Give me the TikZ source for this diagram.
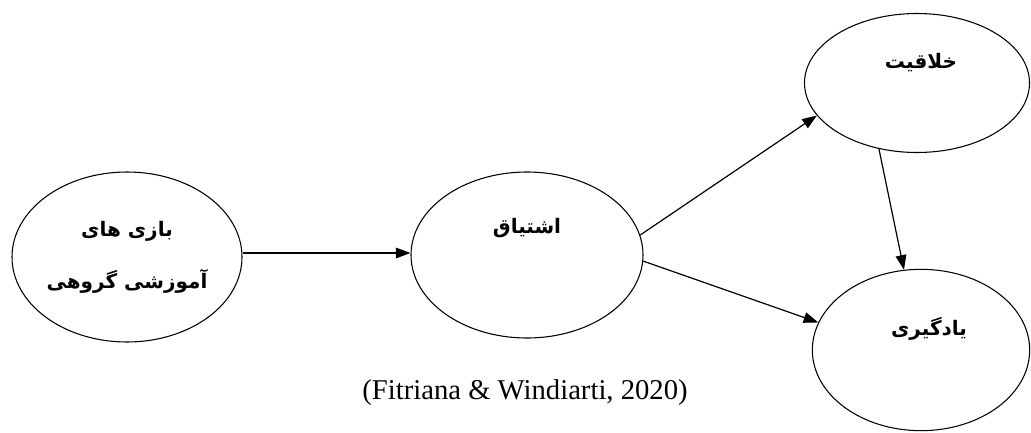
\documentclass[tikz,border=0pt]{standalone}
\usepackage{fontspec}
\usepackage{tikz}
\usetikzlibrary{shapes.geometric,arrows.meta}
\setmainfont{Liberation Serif}
\newfontfamily\arabicfont[Script=Arabic]{DejaVu Sans}
\TeXXeTstate=1
\begin{document}
\begin{tikzpicture}[x=0.75pt,y=-0.75pt,
  ell/.style={draw,ellipse,line width=0.8pt,inner sep=0pt},
  fa/.style={font=\arabicfont\bfseries\fontsize{15}{18}\selectfont,align=center},
  arr/.style={line width=0.9pt,-{Triangle[length=11pt,width=8pt]}}]
\useasboundingbox (0,0) rectangle (1031,432);
% the four ellipses
\node[ell,fa,minimum width=172.5pt,minimum height=127.5pt] (game) at (127,257)
  {\beginR بازی های\endR\\[21pt]\beginR آموزشی گروهی\endR};
\node[ell,minimum width=174pt,minimum height=124.5pt] (eager) at (527,255) {};
\node[ell,minimum width=168.75pt,minimum height=104.25pt] (creat) at (917,83) {};
\node[ell,minimum width=163pt,minimum height=121pt] (learn) at (921,350) {};
% labels
\node[fa] (eagerlbl) at ([yshift=20pt]eager.center) {\beginR اشتیاق\endR};
\node[fa] (creatlbl) at ([yshift=15pt,xshift=3pt]creat.center) {\beginR خلاقیت\endR};
\node[fa] (learnlbl) at ([yshift=16pt,xshift=6pt]learn.center) {\beginR یادگیری\endR};
\node[font=\fontsize{21.5}{25}\selectfont] (cite) at (525,393) {(Fitriana \& Windiarti, 2020)};
% arrows
\draw[arr] ([yshift=3pt]game.east) -- ([yshift=3pt]game.east -| eager.west);
\draw[arr] (eager.10) -- (creat.198);
\draw[arr] (eager.-3) -- (learn.165);
\draw[arr] (creat.240) -- (learn.102);
\end{tikzpicture}
\end{document}
